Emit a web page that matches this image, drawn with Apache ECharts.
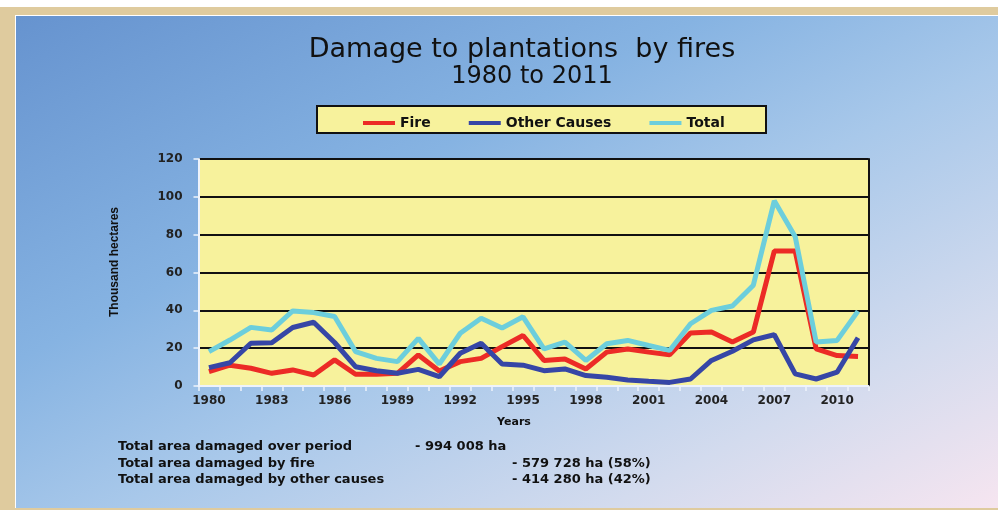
<!DOCTYPE html>
<html>
<head>
<meta charset="utf-8">
<script src="https://cdn.jsdelivr.net/npm/echarts@6/dist/echarts.min.js"></script>
<style>
  html, body { margin: 0; padding: 0; background: #fff; }
  #frame { position: absolute; left: 0; top: 7px; width: 998px; height: 503px; background: #dfcb9e; }
  #edge { position: absolute; left: 15px; top: 15px; width: 983px; height: 493px; background: #fff; }
  #panel { position: absolute; left: 16px; top: 16px; width: 982px; height: 492px;
    background: linear-gradient(to bottom right, #6693cf 0%, #86b3e2 35%, #a8c8ea 55%, #d3dbee 80%, #f6e5f0 100%); }
  #chart { position: absolute; left: 0; top: 0; width: 998px; height: 510px; }
</style>
</head>
<body>
<div id="frame"></div>
<div id="edge"></div>
<div id="panel"></div>
<div id="chart"></div>
<script>
// years 1980..2011
var years = [];
for (var y = 1980; y <= 2011; y++) years.push(String(y));

// thousand hectares
var fire = [7.6, 11, 9.4, 6.7, 8.5, 5.8, 13.8, 6.2, 6.2, 6.7, 16.4, 7.9, 12.9, 14.6, 20.8, 26.7,
            13.5, 14.3, 9.0, 17.9, 19.6, 17.9, 16.5, 28, 28.5, 23.2, 28.5, 71.3, 71.3, 19.6, 16.1, 15.6];
var otherCauses = [9.7, 12.3, 22.6, 22.9, 30.9, 33.7, 23, 10.2, 8.1, 6.7, 8.8, 4.9, 17.3, 22.6, 11.6, 11,
            8.1, 9, 5.5, 4.6, 3.2, 2.5, 1.9, 3.7, 13.5, 18.4, 24.4, 27.1, 6.4, 3.7, 7.3, 25.5];
var total = [18.2, 24.3, 31, 29.6, 39.7, 38.8, 36.7, 18.2, 14.6, 12.9, 25.2, 11.6, 27.9, 35.8, 30.7, 36.6,
            19.6, 23.2, 13.5, 22.3, 24.1, 21.4, 18.8, 32.9, 40, 42.3, 53.3, 97.9, 78.9, 23.2, 24.1, 39.6];

var seriesNames = ['Fire', 'Other Causes', 'Total'];
var seriesColors = ['#ec2b26', '#3646a6', '#6ccedc'];
var seriesData = [fire, otherCauses, total];

var notes = [
  ['Total area damaged over period', '- 994 008 ha'],
  ['Total area damaged by fire', '- 579 728 ha (58%)'],
  ['Total area damaged by other causes', '- 414 280 ha (42%)']
];

var chart = echarts.init(document.getElementById('chart'));

var font = 'DejaVu Sans';
var _series = [];
seriesNames.forEach(function (name, i) {
  _series.push({
    name: name,
    type: 'line',
    data: seriesData[i],
    symbol: 'none',
    lineStyle: { width: 5, color: seriesColors[i] },
    itemStyle: { color: seriesColors[i] }
  });
});

var graphics = [
  // legend box
  { type: 'rect', z: 0, shape: { x: 317, y: 106, width: 449, height: 27 },
    style: { fill: '#f7f29c', stroke: '#111', lineWidth: 2 } },
  // title
  { type: 'text', x: 522, y: 50, style: { text: 'Damage to plantations  by fires', font: '27px "DejaVu Sans"',
    fill: '#111', align: 'center', verticalAlign: 'middle' } },
  { type: 'text', x: 532, y: 77, style: { text: '1980 to 2011', font: '24px "DejaVu Sans"',
    fill: '#111', align: 'center', verticalAlign: 'middle' } },
  // axis names
  { type: 'text', x: 115, y: 262, rotation: Math.PI / 2,
    style: { text: 'Thousand hectares', font: 'bold 12px "Liberation Sans Narrow", "Liberation Sans"',
    fill: '#111', align: 'center', verticalAlign: 'middle' } },
  { type: 'text', x: 514, y: 422, style: { text: 'Years', font: 'bold 11px "DejaVu Sans"',
    fill: '#111', align: 'center', verticalAlign: 'middle' } }
];
notes.forEach(function (row, i) {
  graphics.push({ type: 'text', x: 118, y: 447 + i * 16.5,
    style: { text: row[0], font: 'bold 13px "DejaVu Sans"', fill: '#111', verticalAlign: 'middle' } });
  graphics.push({ type: 'text', x: i == 0 ? 415 : 512, y: 447 + i * 16.5,
    style: { text: row[1], font: 'bold 13px "DejaVu Sans"', fill: '#111', verticalAlign: 'middle' } });
});

chart.setOption({
  backgroundColor: 'transparent',
  animation: false,
  grid: {
    left: 198.5, right: 129.5, top: 159, bottom: 124,
    show: true, backgroundColor: '#f7f29c', borderWidth: 0
  },
  legend: {
    data: seriesNames,
    left: 358, top: 111,
    itemWidth: 32, itemHeight: 4, itemGap: 38,
    icon: 'rect',
    textStyle: { fontFamily: font, fontWeight: 'bold', fontSize: 14, color: '#111' }
  },
  xAxis: {
    type: 'category',
    data: years,
    boundaryGap: true,
    axisLine: { show: true, lineStyle: { color: '#eef3fb', width: 2 } },
    axisTick: { show: true, interval: 0, length: 5, lineStyle: { color: '#eef3fb', width: 1.5 } },
    axisLabel: { interval: 2, margin: 9, fontFamily: font, fontWeight: 'bold', fontSize: 12, color: '#222' },
    splitLine: { show: false }
  },
  yAxis: [{
    type: 'value',
    min: 0, max: 120, interval: 20,
    axisLine: { show: true, lineStyle: { color: '#eef3fb', width: 2 } },
    axisTick: { show: true, length: 5, inside: false, lineStyle: { color: '#eef3fb', width: 1.5 } },
    axisLabel: { margin: 16, fontFamily: font, fontWeight: 'bold', fontSize: 12, color: '#222' },
    splitLine: { show: true, lineStyle: { color: '#111', width: 2 } }
  }, {
    type: 'value',
    position: 'right',
    min: 0, max: 120, interval: 20,
    axisLine: { show: true, lineStyle: { color: '#111', width: 2 } },
    axisTick: { show: false },
    axisLabel: { show: false },
    splitLine: { show: false }
  }],
  series: _series,
  graphic: graphics
});
</script>
</body>
</html>
